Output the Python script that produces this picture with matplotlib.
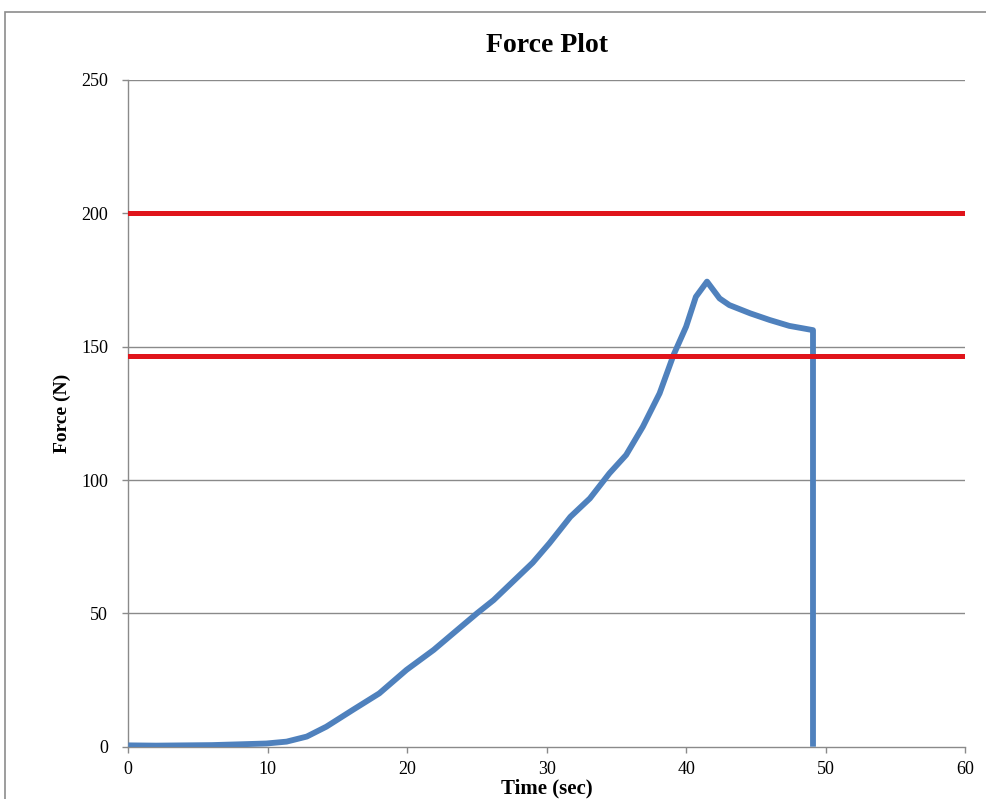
import numpy as np
import matplotlib.pyplot as plt
from matplotlib.patches import Rectangle

# force data
time_sec = [0, 2, 4, 6, 8, 9.9, 11.35, 12.8, 14.2, 16.1, 18.0, 19.95, 21.9, 23.3,
            25.0, 26.2, 27.6, 29.0, 30.2, 31.7, 33.1, 34.5, 35.7, 36.9, 38.1, 39.1,
            40.0, 40.7, 41.5, 42.4, 43.1, 44.6, 46.0, 47.4, 49.1, 49.1]
force_n = [0.5, 0.4, 0.5, 0.6, 0.9, 1.2, 1.9, 3.8, 7.5, 13.8, 20, 28.8, 36.3, 42.5,
           50, 55, 62, 69, 76.3, 86.2, 93.1, 102.5, 109.4, 120, 132.5, 146.9,
           157.5, 168.7, 174.4, 168.1, 165.6, 162.5, 160, 157.8, 156.2, 0]

# limit lines
limit_upper = 200
limit_lower = 146.5

x_ticks = [0, 10, 20, 30, 40, 50, 60]
y_ticks = [0, 50, 100, 150, 200, 250]

W, H = 987, 799
fig = plt.figure(figsize=(W / 100, H / 100), dpi=100)
plt.rcParams['font.family'] = ['Liberation Serif', 'DejaVu Serif']

# outer chart border
fig.patches.append(Rectangle((5 / W, -0.05), 1.1, 1 - 12 / H + 0.05,
                             transform=fig.transFigure, fill=False,
                             edgecolor='#8c8c8c', linewidth=1.2))

ax = fig.add_axes([128.3 / W, 52.3 / H, (965 - 128.3) / W, (746.7 - 80) / H])

ax.plot(time_sec, force_n, color='#4F81BD', linewidth=4.2,
        solid_joinstyle='round', solid_capstyle='butt', zorder=3)
ax.plot([0, 60], [limit_upper, limit_upper], color='#E0141B', linewidth=3.6, zorder=4)
ax.plot([0, 60], [limit_lower, limit_lower], color='#E0141B', linewidth=3.6, zorder=4)

ax.set_xlim(0, 60)
ax.set_ylim(0, 250)
ax.set_xticks(x_ticks)
ax.set_yticks(y_ticks)

for y in y_ticks[1:]:
    ax.axhline(y, color='#8a8a8a', linewidth=1.0, zorder=1)

for s in ['top', 'right']:
    ax.spines[s].set_visible(False)
for s in ['left', 'bottom']:
    ax.spines[s].set_color('#8a8a8a')
    ax.spines[s].set_linewidth(1.0)

ax.tick_params(axis='both', direction='out', length=4.5, width=1.0,
               color='#8a8a8a', labelsize=13)
ax.tick_params(axis='y', pad=10)
ax.tick_params(axis='x', pad=6)

ax.set_title('Force Plot', fontsize=20, fontweight='bold', pad=20)
ax.set_xlabel('Time (sec)', fontsize=15, fontweight='bold', labelpad=0)
ax.set_ylabel('Force (N)', fontsize=14, fontweight='bold', labelpad=7)

fig.savefig('out.png', dpi=100)
